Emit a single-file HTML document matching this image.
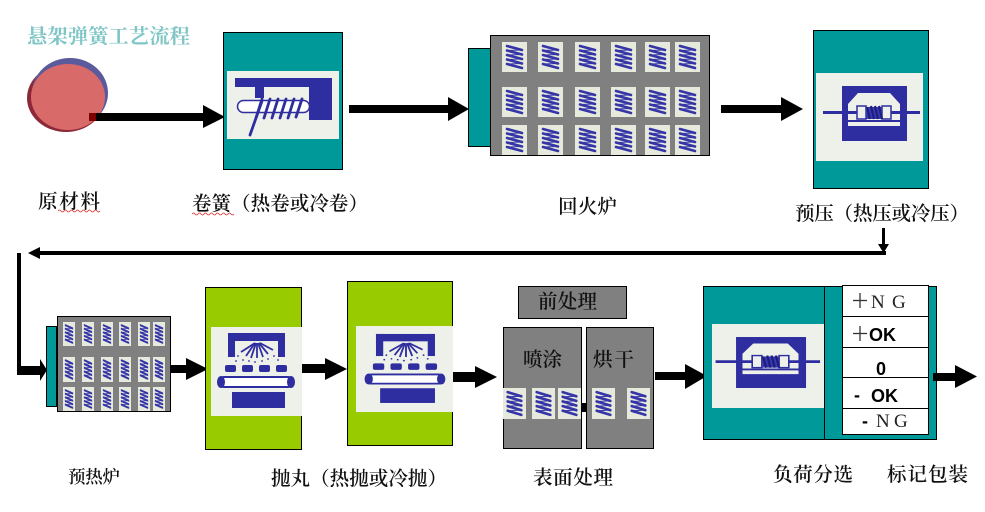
<!DOCTYPE html>
<html><head><meta charset="utf-8"><style>
html,body{margin:0;padding:0;background:#fff;width:985px;height:512px;overflow:hidden}
svg{display:block}
.t{font-family:"Liberation Serif","Noto Serif CJK SC",serif;font-size:19.5px;fill:#111;font-weight:600}
</style></head><body>
<svg width="985" height="512" viewBox="0 0 985 512" xmlns="http://www.w3.org/2000/svg">
<defs>
<symbol id="tile" viewBox="0 0 25 30" preserveAspectRatio="none">
<rect x="0" y="0" width="25" height="30" fill="#e6eadc"/>
<g stroke="#3535a8" stroke-width="2.6" stroke-linecap="round" fill="none">
<path d="M5,4 L20,8 M5,8.5 L20,12.5 M5,13 L20,17 M5,17.5 L20,21.5 M5,22 L20,26"/>
</g>
<g stroke="#3535a8" stroke-width="0.9" fill="none">
<path d="M20,8 L5,8.5 M20,12.5 L5,13 M20,17 L5,17.5 M20,21.5 L5,22"/>
</g>
</symbol>
<g id="press">
<rect x="842" y="86" width="65" height="55" fill="#2e2ea0"/>
<polygon points="858,93 890,93 900,104 900,126 848,126 848,104" fill="#eef0ea"/>
<line x1="848" y1="121" x2="900" y2="121" stroke="#2e2ea0" stroke-width="2"/>
<line x1="823" y1="112.5" x2="920" y2="112.5" stroke="#2e2ea0" stroke-width="3"/>
<rect x="857" y="106" width="9" height="13" fill="#eef0ea" stroke="#2e2ea0" stroke-width="1.5"/>
<rect x="882" y="106" width="9" height="13" fill="#eef0ea" stroke="#2e2ea0" stroke-width="1.5"/>
<rect x="866" y="107" width="16" height="12" fill="#3a3ab0"/>
<path d="M867,107 L870,119 M871,106 L874,119 M875,106 L878,119 M879,106 L882,119" stroke="#1e1e80" stroke-width="2.2"/>
</g>
<g id="blast">
<rect x="228" y="333" width="57" height="8" fill="#2e2ea0"/>
<rect x="228" y="333" width="7" height="24" fill="#2e2ea0"/>
<rect x="278" y="333" width="7" height="24" fill="#2e2ea0"/>
<g stroke="#2e2ea0" stroke-width="1.8">
<line x1="255" y1="343" x2="241" y2="352"/>
<line x1="255" y1="343" x2="246" y2="356"/>
<line x1="256" y1="343" x2="251" y2="358"/>
<line x1="257" y1="343" x2="257" y2="358"/>
<line x1="258" y1="343" x2="263" y2="357"/>
<line x1="259" y1="343" x2="268" y2="354"/>
<line x1="260" y1="343" x2="273" y2="350"/>
</g>
<g fill="#2e2ea0">
<circle cx="238" cy="356" r="0.9"/><circle cx="243" cy="360" r="0.9"/><circle cx="249" cy="361" r="0.9"/>
<circle cx="255" cy="362" r="0.9"/><circle cx="262" cy="361" r="0.9"/><circle cx="268" cy="359" r="0.9"/>
<circle cx="274" cy="356" r="0.9"/><circle cx="278" cy="360" r="0.9"/><circle cx="236" cy="361" r="0.9"/>
<rect x="225" y="365" width="11" height="7" rx="2"/>
<rect x="242" y="365" width="11" height="7" rx="2"/>
<rect x="259" y="365" width="11" height="7" rx="2"/>
<rect x="276" y="365" width="11" height="7" rx="2"/>
<rect x="232" y="392" width="53" height="16"/>
</g>
<rect x="219" y="377" width="74" height="10" rx="5" fill="#fff" stroke="#2e2ea0" stroke-width="2"/>
<ellipse cx="221" cy="382" rx="4" ry="6" fill="#2e2ea0"/>
<ellipse cx="291" cy="382" rx="4" ry="6" fill="#2e2ea0"/>
</g>
</defs>

<!-- title -->
<text x="27" y="43" textLength="163" lengthAdjust="spacingAndGlyphs" style="font-family:'Liberation Serif','Noto Serif CJK SC',serif;font-size:20px;font-weight:bold;fill:#80c6c6">悬架弹簧工艺流程</text>

<!-- raw material circle -->
<ellipse cx="66" cy="98" rx="39" ry="34" fill="#8c2838"/>
<ellipse cx="70" cy="93" rx="38" ry="35" fill="#5a5a9c"/>
<ellipse cx="68" cy="97" rx="37" ry="33" fill="#d96a6a"/>
<rect x="89" y="113" width="7" height="8" fill="#800000"/>
<!-- arrow 1 -->
<rect x="96" y="113" width="110" height="8" fill="#000"/>
<polygon points="203,105 225,117 203,128" fill="#000"/>

<!-- 卷簧 box -->
<rect x="223.5" y="32.5" width="119" height="137" fill="#009999" stroke="#000" stroke-width="1"/>
<rect x="227" y="71" width="112" height="68" fill="#eef0ea"/>
<g fill="#2e2ea0">
<rect x="235" y="78" width="97" height="9"/>
<rect x="309" y="78" width="23" height="42"/>
<rect x="255" y="86" width="9" height="12"/>
</g>
<rect x="237.5" y="100.5" width="72" height="12" rx="6" fill="#fff" stroke="#2e2ea0" stroke-width="1.5"/>
<g stroke="#2e2ea0" stroke-width="2.8" stroke-linecap="round">
<line x1="262" y1="99" x2="256" y2="118"/>
<line x1="270" y1="99" x2="264" y2="118"/>
<line x1="278" y1="99" x2="272" y2="118"/>
<line x1="286" y1="99" x2="280" y2="118"/>
<line x1="294" y1="99" x2="288" y2="118"/>
<line x1="302" y1="99" x2="296" y2="117"/>
<line x1="262" y1="101" x2="250" y2="135"/>
</g>

<!-- arrow 2 -->
<rect x="349" y="105" width="101" height="8" fill="#000"/>
<polygon points="448,97 469,109 448,121" fill="#000"/>

<!-- 回火炉 -->
<rect x="468.5" y="48.5" width="22" height="98" fill="#009999" stroke="#000" stroke-width="1"/>
<rect x="490.5" y="35.5" width="219" height="120" fill="#808080" stroke="#000" stroke-width="1"/>
<g>
<use href="#tile" x="502" y="42" width="25" height="30"/><use href="#tile" x="538" y="42" width="25" height="30"/><use href="#tile" x="575" y="42" width="25" height="30"/><use href="#tile" x="611" y="42" width="25" height="30"/><use href="#tile" x="645" y="42" width="25" height="30"/><use href="#tile" x="675" y="42" width="25" height="30"/>
<use href="#tile" x="502" y="87" width="25" height="30"/><use href="#tile" x="538" y="87" width="25" height="30"/><use href="#tile" x="575" y="87" width="25" height="30"/><use href="#tile" x="611" y="87" width="25" height="30"/><use href="#tile" x="645" y="87" width="25" height="30"/><use href="#tile" x="675" y="87" width="25" height="30"/>
<use href="#tile" x="502" y="125" width="25" height="30"/><use href="#tile" x="538" y="125" width="25" height="30"/><use href="#tile" x="575" y="125" width="25" height="30"/><use href="#tile" x="611" y="125" width="25" height="30"/><use href="#tile" x="645" y="125" width="25" height="30"/><use href="#tile" x="675" y="125" width="25" height="30"/>
</g>

<!-- arrow 3 -->
<rect x="721" y="105" width="61" height="8" fill="#000"/>
<polygon points="781,97 803,109 781,121" fill="#000"/>

<!-- 预压 box -->
<rect x="813.5" y="30.5" width="115" height="158" fill="#009999" stroke="#000" stroke-width="1"/>
<rect x="816" y="73" width="107" height="88" fill="#eef0ea"/>
<use href="#press"/>

<!-- top labels -->
<text class="t" x="38" y="208" textLength="62">原材料</text>
<text class="t" x="192" y="210" textLength="176">卷簧（热卷或冷卷）</text>
<text class="t" x="558" y="213" textLength="59">回火炉</text>
<text class="t" x="795" y="220" textLength="174">预压（热压或冷压）</text>
<path d="M58,211 q1.5,-2 3,0 t3,0 t3,0 t3,0 t3,0 t3,0 t3,0 t3,0 t3,0 t3,0 t3,0 t3,0 t3,0 t3,0" stroke="#e03030" stroke-width="0.8" fill="none"/>
<path d="M192,214 q1.5,-2 3,0 t3,0 t3,0 t3,0 t3,0 t3,0 t3,0 t3,0 t3,0 t3,0 t3,0 t3,0 t3,0 t3,0" stroke="#e03030" stroke-width="0.8" fill="none"/>

<!-- return connector -->
<rect x="882" y="228" width="3" height="18" fill="#000"/>
<polygon points="878,244 889,244 883.5,253" fill="#000"/>
<rect x="36" y="251" width="850" height="4" fill="#000"/>
<polygon points="28,253 40,247 40,259" fill="#000"/>
<rect x="17" y="253" width="4" height="122" fill="#000"/>
<rect x="17" y="366" width="25" height="9" fill="#000"/>
<polygon points="40,359 47,370 40,381" fill="#000"/>

<!-- 预热炉 -->
<rect x="46.5" y="326.5" width="10" height="80" fill="#009999" stroke="#000" stroke-width="1"/>
<rect x="57.5" y="316.5" width="113" height="95" fill="#808080" stroke="#000" stroke-width="1"/>
<g>
<use href="#tile" x="63" y="322" width="12" height="24"/><use href="#tile" x="82" y="322" width="12" height="24"/><use href="#tile" x="101" y="322" width="12" height="24"/><use href="#tile" x="119" y="322" width="12" height="24"/><use href="#tile" x="138" y="322" width="12" height="24"/><use href="#tile" x="153" y="322" width="12" height="24"/>
<use href="#tile" x="63" y="357" width="12" height="25"/><use href="#tile" x="82" y="357" width="12" height="25"/><use href="#tile" x="101" y="357" width="12" height="25"/><use href="#tile" x="119" y="357" width="12" height="25"/><use href="#tile" x="138" y="357" width="12" height="25"/><use href="#tile" x="153" y="357" width="12" height="25"/>
<use href="#tile" x="63" y="387" width="12" height="24"/><use href="#tile" x="82" y="387" width="12" height="24"/><use href="#tile" x="101" y="387" width="12" height="24"/><use href="#tile" x="119" y="387" width="12" height="24"/><use href="#tile" x="138" y="387" width="12" height="24"/><use href="#tile" x="153" y="387" width="12" height="24"/>
</g>

<!-- arrow -->
<rect x="171" y="365" width="17" height="8" fill="#000"/>
<polygon points="186,358 208,369 186,380" fill="#000"/>

<!-- green box 1 -->
<rect x="205.5" y="287.5" width="96" height="162" fill="#99cc00" stroke="#000" stroke-width="1"/>
<rect x="211" y="327" width="91" height="89" fill="#eef0ea"/>
<use href="#blast"/>

<!-- arrow -->
<rect x="302" y="364" width="25" height="9" fill="#000"/>
<polygon points="325,358 347,369 325,380" fill="#000"/>

<!-- green box 2 -->
<rect x="347.5" y="281.5" width="105" height="164" fill="#99cc00" stroke="#000" stroke-width="1"/>
<rect x="356" y="326" width="97" height="86" fill="#eef0ea"/>
<use href="#blast" transform="matrix(1.035 0 0 0.92 140 27.6)"/>

<!-- arrow -->
<rect x="453" y="372" width="24" height="10" fill="#000"/>
<polygon points="475,366 497,377 475,388" fill="#000"/>

<!-- surface treatment -->
<rect x="518.5" y="286.5" width="108" height="32" fill="#808080" stroke="#000" stroke-width="1"/>
<rect x="503.5" y="327.5" width="78" height="121" fill="#808080" stroke="#000" stroke-width="1"/>
<rect x="586.5" y="327.5" width="67" height="121" fill="#808080" stroke="#000" stroke-width="1"/>
<rect x="581" y="403" width="6" height="9" fill="#000"/>
<use href="#tile" x="503" y="388" width="23" height="31"/>
<use href="#tile" x="532" y="388" width="23" height="31"/>
<use href="#tile" x="558" y="388" width="23" height="31"/>
<use href="#tile" x="592" y="388" width="23" height="31"/>
<use href="#tile" x="627" y="388" width="23" height="31"/>
<text class="t" x="538" y="308" textLength="59">前处理</text>
<text class="t" x="523" y="366" textLength="39">喷涂</text>
<text class="t" x="593" y="366" textLength="41">烘干</text>

<!-- arrow -->
<rect x="655" y="372" width="32" height="8" fill="#000"/>
<polygon points="685,364 707,376 685,389" fill="#000"/>

<!-- load sort box -->
<rect x="703.5" y="286.5" width="233" height="153" fill="#009999" stroke="#000" stroke-width="1"/>
<line x1="824.5" y1="286" x2="824.5" y2="440" stroke="#000" stroke-width="1"/>
<rect x="712" y="324" width="112" height="84" fill="#eef0ea"/>
<use href="#press" transform="matrix(1.077 0 0 0.927 -170.8 257.3)"/>
<rect x="842.5" y="285.5" width="86" height="149" fill="#fff" stroke="#000" stroke-width="1"/>
<g stroke="#000" stroke-width="1">
<line x1="842" y1="316.5" x2="929" y2="316.5"/>
<line x1="842" y1="347.5" x2="929" y2="347.5"/>
<line x1="842" y1="377.5" x2="929" y2="377.5"/>
<line x1="842" y1="408.5" x2="929" y2="408.5"/>
</g>
<!-- thin plus signs -->
<g stroke="#333" stroke-width="1.3">
<line x1="853" y1="300.5" x2="867" y2="300.5"/><line x1="860" y1="293" x2="860" y2="308"/>
<line x1="853" y1="333.5" x2="867" y2="333.5"/><line x1="860" y1="326" x2="860" y2="341"/>
</g>
<g style="font-family:'Liberation Serif',serif;font-size:19px;fill:#222">
<text x="871" y="308">N</text><text x="892" y="308">G</text>
<text x="876" y="427">N</text><text x="894" y="427">G</text>
</g>
<g style="font-family:'Liberation Sans',sans-serif;font-size:18px;font-weight:bold;fill:#000">
<text x="869" y="341">OK</text>
<text x="876" y="375">0</text>
<text x="854" y="401">-</text><text x="871" y="402">OK</text>
<text x="862" y="427">-</text>
</g>

<!-- final arrow -->
<rect x="933" y="373" width="24" height="8" fill="#000"/>
<polygon points="955,365 977,376.5 955,388" fill="#000"/>

<!-- bottom labels -->
<text class="t" x="68" y="483" textLength="52" style="font-size:17.5px">预热炉</text>
<text class="t" x="271" y="485" textLength="176">抛丸（热抛或冷抛）</text>
<text class="t" x="533" y="484" textLength="80">表面处理</text>
<text class="t" x="773" y="481" textLength="80">负荷分选</text>
<text class="t" x="887" y="481" textLength="81">标记包装</text>
</svg>
</body></html>
